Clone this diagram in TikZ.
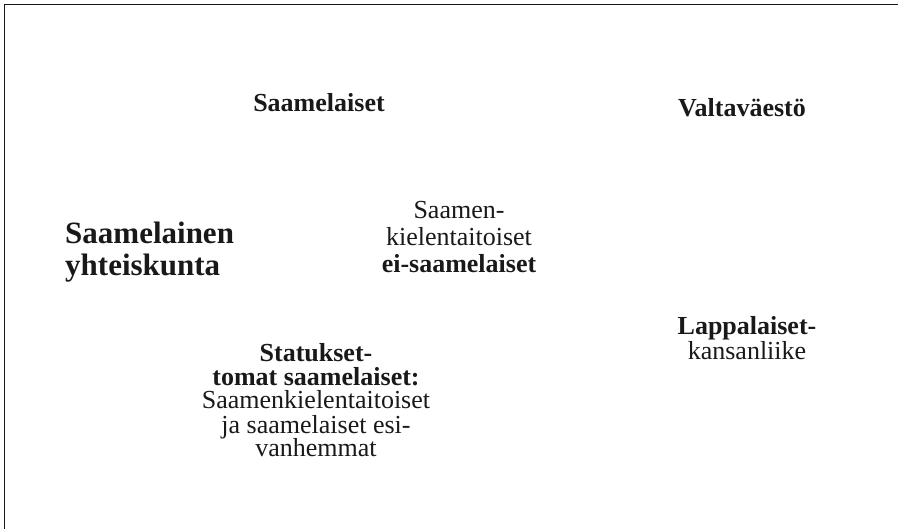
\documentclass[tikz,border=0pt]{standalone}
\usepackage{fontspec}
\setmainfont{Liberation Serif}
\begin{document}
\begin{tikzpicture}[x=1pt,y=-1pt,
  lbl/.style={inner sep=0pt, anchor=base, align=center, text=black!90},
  frame/.style={line width=1.4pt, draw=black!90}]
\useasboundingbox (0,0) rectangle (898,529);
% open frame: top and left edges only
\draw[frame] (898,4.6) -- (4.6,4.6) -- (4.6,529);
% multi-line labels are placed by the baseline of their last line
\node[lbl, font=\bfseries\fontsize{26}{27}\selectfont] (saame) at (319,112) {Saamelaiset};
\node[lbl, font=\bfseries\fontsize{26}{27}\selectfont] (valta) at (742,117) {Valtaväestö};
\node[lbl, align=left, anchor=base west, font=\bfseries\fontsize{31}{32}\selectfont] (yht) at (65,276) {Saamelainen\\yhteiskunta};
\node[lbl, font=\fontsize{26}{27}\selectfont] (eisaame) at (459,273) {Saamen-\\kielentaitoiset\\\textbf{ei-saamelaiset}};
\node[lbl, font=\fontsize{26}{25.5}\selectfont] (lappa) at (747,360) {\textbf{Lappalaiset-}\\kansanliike};
\node[lbl, font=\fontsize{26}{24}\selectfont] (status) at (316,457) {\textbf{Statukset-}\\\textbf{tomat saamelaiset:}\\Saamenkielentaitoiset\\ja saamelaiset esi-\\vanhemmat};
\end{tikzpicture}
\end{document}
